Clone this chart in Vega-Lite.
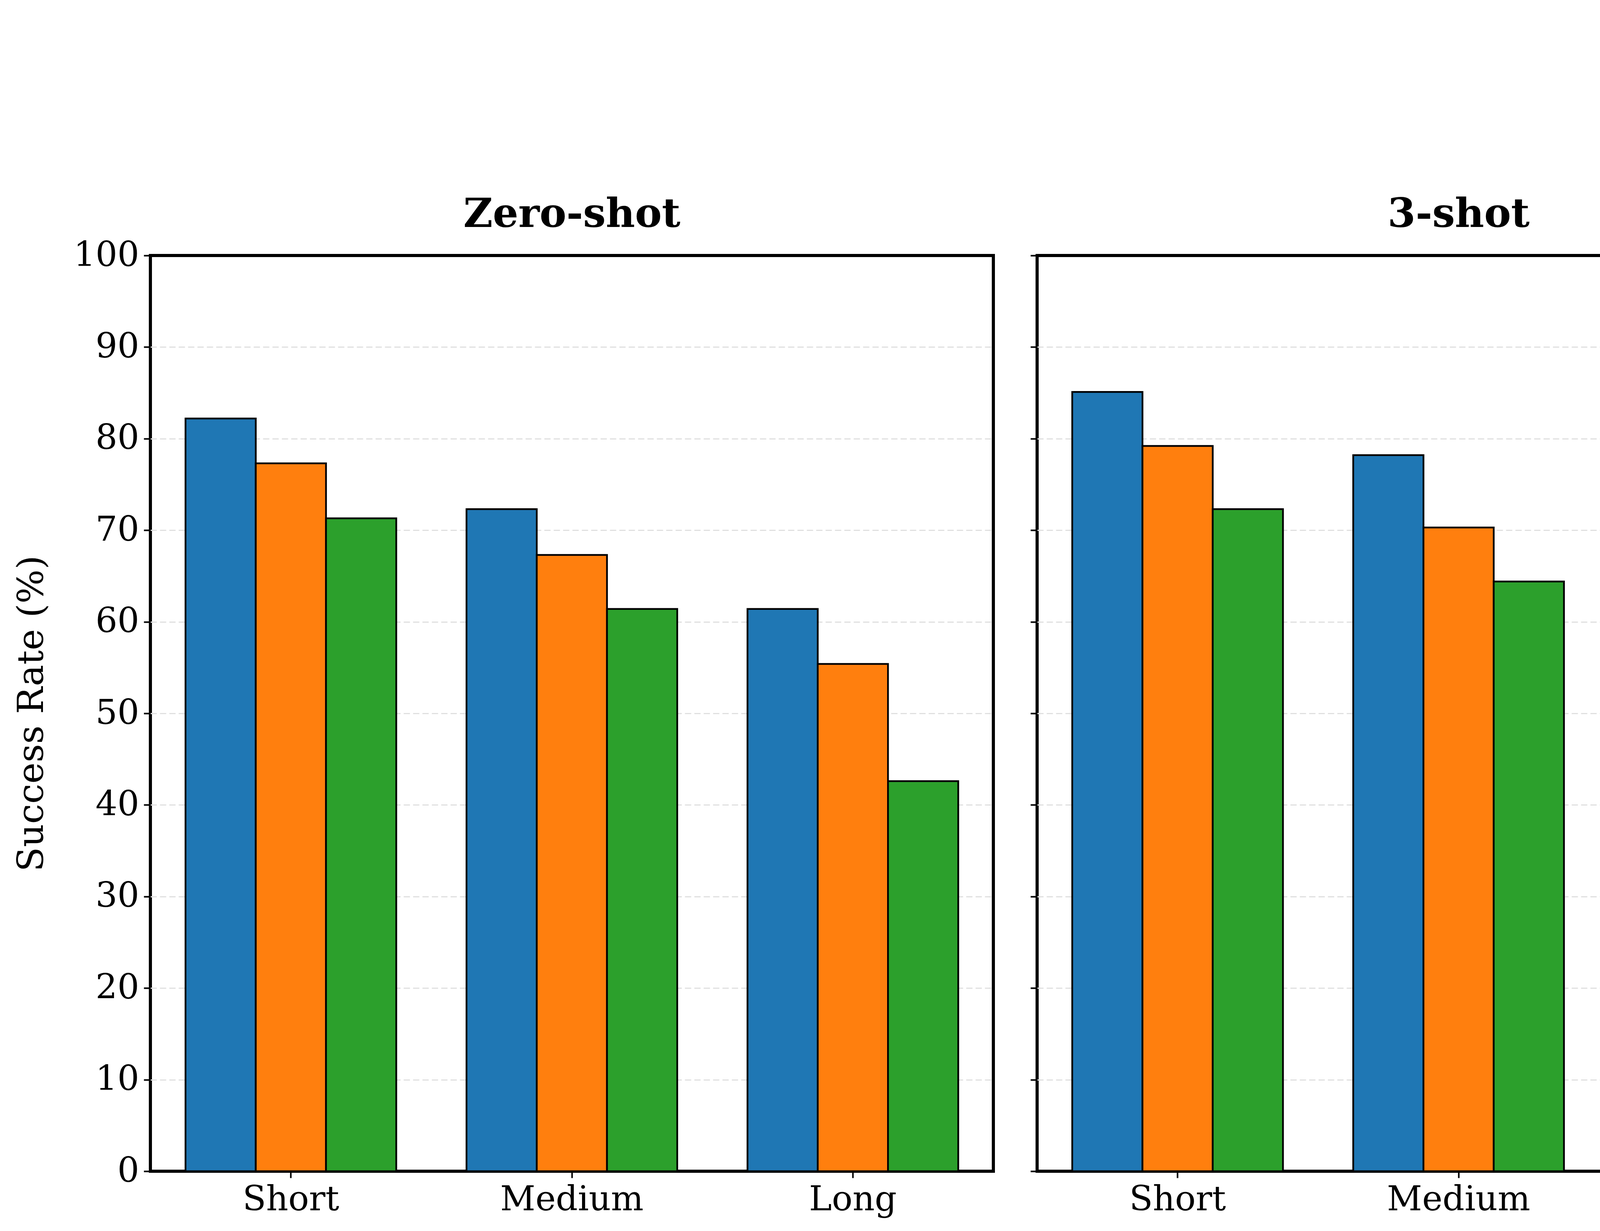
{
  "$schema": "https://vega.github.io/schema/vega-lite/v6.json",
  "padding": {"left": 31, "top": 60, "right": 0, "bottom": 0},
  "background": "white",
  "data": {"values": [
    {"setting": "Zero-shot", "length": "Short", "model": "Claude 3.7 Sonnet", "rate": 82.2},
    {"setting": "Zero-shot", "length": "Short", "model": "GPT-4o", "rate": 77.3},
    {"setting": "Zero-shot", "length": "Short", "model": "LLaMA 3.2", "rate": 71.3},
    {"setting": "Zero-shot", "length": "Medium", "model": "Claude 3.7 Sonnet", "rate": 72.3},
    {"setting": "Zero-shot", "length": "Medium", "model": "GPT-4o", "rate": 67.3},
    {"setting": "Zero-shot", "length": "Medium", "model": "LLaMA 3.2", "rate": 61.4},
    {"setting": "Zero-shot", "length": "Long", "model": "Claude 3.7 Sonnet", "rate": 61.4},
    {"setting": "Zero-shot", "length": "Long", "model": "GPT-4o", "rate": 55.4},
    {"setting": "Zero-shot", "length": "Long", "model": "LLaMA 3.2", "rate": 42.6},
    {"setting": "3-shot", "length": "Short", "model": "Claude 3.7 Sonnet", "rate": 85.1},
    {"setting": "3-shot", "length": "Short", "model": "GPT-4o", "rate": 79.2},
    {"setting": "3-shot", "length": "Short", "model": "LLaMA 3.2", "rate": 72.3},
    {"setting": "3-shot", "length": "Medium", "model": "Claude 3.7 Sonnet", "rate": 78.2},
    {"setting": "3-shot", "length": "Medium", "model": "GPT-4o", "rate": 70.3},
    {"setting": "3-shot", "length": "Medium", "model": "LLaMA 3.2", "rate": 64.4},
    {"setting": "3-shot", "length": "Long", "model": "Claude 3.7 Sonnet", "rate": 66.3},
    {"setting": "3-shot", "length": "Long", "model": "GPT-4o", "rate": 59.4},
    {"setting": "3-shot", "length": "Long", "model": "LLaMA 3.2", "rate": 44.6},
    {"setting": "5-shot", "length": "Short", "model": "Claude 3.7 Sonnet", "rate": 89.1},
    {"setting": "5-shot", "length": "Short", "model": "GPT-4o", "rate": 83.2},
    {"setting": "5-shot", "length": "Short", "model": "LLaMA 3.2", "rate": 74.3},
    {"setting": "5-shot", "length": "Medium", "model": "Claude 3.7 Sonnet", "rate": 83.2},
    {"setting": "5-shot", "length": "Medium", "model": "GPT-4o", "rate": 76.2},
    {"setting": "5-shot", "length": "Medium", "model": "LLaMA 3.2", "rate": 68.3},
    {"setting": "5-shot", "length": "Long", "model": "Claude 3.7 Sonnet", "rate": 71.3},
    {"setting": "5-shot", "length": "Long", "model": "GPT-4o", "rate": 63.4},
    {"setting": "5-shot", "length": "Long", "model": "LLaMA 3.2", "rate": 51.5}
  ]},
  "hconcat": [
    {
      "title": {"text": "Zero-shot", "dy": 42},
      "width": 2158, "height": 2344,
      "transform": [{"filter": "datum.setting === 'Zero-shot'"}],
      "mark": {"type": "bar", "stroke": "black", "strokeWidth": 4.5},
      "encoding": {
        "x": {"field": "length", "type": "nominal", "sort": ["Short", "Medium", "Long"], "scale": {"paddingInner": 0.25, "paddingOuter": 0.125}, "axis": {"title": null}},
        "xOffset": {"field": "model", "type": "nominal", "sort": ["Claude 3.7 Sonnet", "GPT-4o", "LLaMA 3.2"], "scale": {"paddingInner": 0, "paddingOuter": 0}},
        "y": {"field": "rate", "type": "quantitative", "scale": {"domain": [0, 100], "nice": false}, "axis": {"title": "Success Rate (%)", "values": [0, 10, 20, 30, 40, 50, 60, 70, 80, 90, 100]}},
        "color": {"field": "model", "type": "nominal", "sort": ["Claude 3.7 Sonnet", "GPT-4o", "LLaMA 3.2"], "scale": {"domain": ["Claude 3.7 Sonnet", "GPT-4o", "LLaMA 3.2"], "range": ["#1f77b4", "#ff7f0e", "#2ca02c"]}, "legend": {"title": "Model", "orient": "none", "legendX": 6058, "legendY": -594}}
      }
    },
    {
      "title": "3-shot",
      "width": 2158, "height": 2344,
      "transform": [{"filter": "datum.setting === '3-shot'"}],
      "mark": {"type": "bar", "stroke": "black", "strokeWidth": 4.5},
      "encoding": {
        "x": {"field": "length", "type": "nominal", "sort": ["Short", "Medium", "Long"], "scale": {"paddingInner": 0.25, "paddingOuter": 0.125}, "axis": {"title": null}},
        "xOffset": {"field": "model", "type": "nominal", "sort": ["Claude 3.7 Sonnet", "GPT-4o", "LLaMA 3.2"], "scale": {"paddingInner": 0, "paddingOuter": 0}},
        "y": {"field": "rate", "type": "quantitative", "scale": {"domain": [0, 100], "nice": false}, "axis": {"title": null, "labels": false, "values": [0, 10, 20, 30, 40, 50, 60, 70, 80, 90, 100]}},
        "color": {"field": "model", "type": "nominal", "sort": ["Claude 3.7 Sonnet", "GPT-4o", "LLaMA 3.2"]}
      }
    },
    {
      "title": "5-shot",
      "width": 2158, "height": 2344,
      "transform": [{"filter": "datum.setting === '5-shot'"}],
      "mark": {"type": "bar", "stroke": "black", "strokeWidth": 4.5},
      "encoding": {
        "x": {"field": "length", "type": "nominal", "sort": ["Short", "Medium", "Long"], "scale": {"paddingInner": 0.25, "paddingOuter": 0.125}, "axis": {"title": null}},
        "xOffset": {"field": "model", "type": "nominal", "sort": ["Claude 3.7 Sonnet", "GPT-4o", "LLaMA 3.2"], "scale": {"paddingInner": 0, "paddingOuter": 0}},
        "y": {"field": "rate", "type": "quantitative", "scale": {"domain": [0, 100], "nice": false}, "axis": {"title": null, "labels": false, "values": [0, 10, 20, 30, 40, 50, 60, 70, 80, 90, 100]}},
        "color": {"field": "model", "type": "nominal", "sort": ["Claude 3.7 Sonnet", "GPT-4o", "LLaMA 3.2"]}
      }
    }
  ],
  "config": {
    "font": "DejaVu Serif",
    "concat": {"spacing": 85},
    "view": {"stroke": "black", "strokeWidth": 8},
    "title": {"font": "DejaVu Serif", "fontSize": 103, "fontWeight": "bold", "color": "black", "offset": 49, "anchor": "middle", "frame": "group"},
    "axis": {
      "labelFont": "DejaVu Serif", "labelFontSize": 88, "labelColor": "black", "labelLimit": 0,
      "titleFont": "DejaVu Serif", "titleFontSize": 92, "titleFontWeight": "normal", "titleColor": "black", "titleLimit": 0,
      "tickSize": 17, "tickWidth": 4, "tickColor": "black", "labelPadding": 12,
      "domain": false
    },
    "axisX": {"labelAngle": 0, "grid": false},
    "axisY": {"grid": true, "gridColor": {"condition": {"test": "datum.value === 0 || datum.value === 100", "value": "transparent"}, "value": "#e0e0e0"}, "gridDash": [16, 8], "gridWidth": 3, "titlePadding": 60},
    "legend": {
      "padding": 0,
      "titleFont": "DejaVu Serif", "titleFontSize": 90, "titleFontWeight": "normal", "titleColor": "black", "titleLimit": 0,
      "titleAnchor": "middle", "titleAlign": "center", "titlePadding": 43,
      "labelFont": "DejaVu Serif", "labelFontSize": 88, "labelColor": "black", "labelLimit": 0,
      "symbolType": "M-2.855,-1H2.855V1H-2.855Z", "symbolSize": 3844,
      "symbolStrokeColor": "black", "symbolStrokeWidth": 5, "symbolOpacity": 1,
      "symbolOffset": 57.5, "labelOffset": 112.5, "rowPadding": 42
    }
  }
}
